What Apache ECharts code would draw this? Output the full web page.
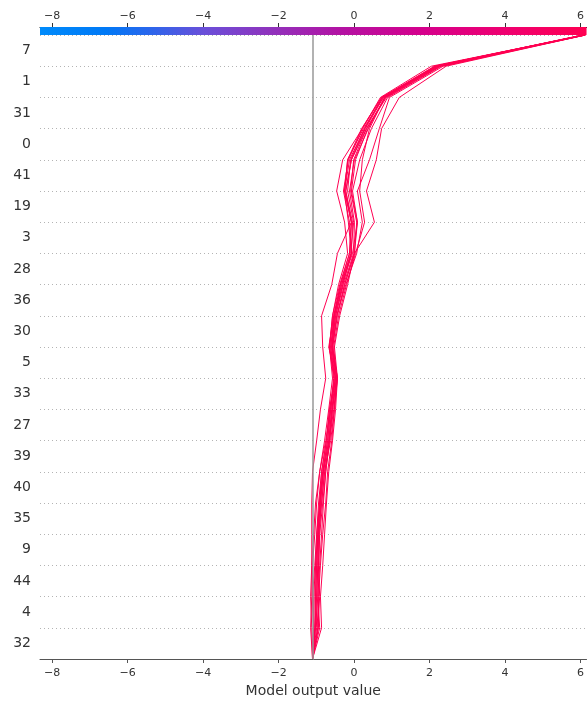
<!DOCTYPE html>
<html>
<head>
<meta charset="utf-8">
<script src="https://cdn.jsdelivr.net/npm/echarts@6/dist/echarts.min.js"></script>
<style>
  html, body { margin: 0; padding: 0; background: #fff; }
  #chart { width: 587px; height: 704px; }
</style>
</head>
<body>
<div id="chart"></div>
<script>
// Feature names, listed from the bottom row to the top row
const featureNames = ['32', '4', '44', '9', '35', '40', '39', '27', '33', '5',
                      '30', '36', '28', '3', '19', '41', '0', '31', '1', '7'];

// Expected model output (where every path starts)
const baseValue = -1.10;

// Axis range and tick labels
const xMin = -8.32;
const xMax = 6.16;
const tickValues = [-8, -6, -4, -2, 0, 2, 4, 6];

// Cumulative model output of each observation at each row boundary (bottom -> top)
const path01 = [-1.10, -1.07, -1.10, -1.12, -1.12, -1.12, -1.10, -0.99, -0.89, -0.75, -0.83, -0.86, -0.59, -0.44, -0.07, -0.25, -0.12, 0.28, 0.75, 2.13, 6.08];
const path02 = [-1.10, -1.15, -1.12, -1.10, -1.04, -0.99, -0.91, -0.78, -0.67, -0.57, -0.65, -0.57, -0.41, -0.17, -0.25, -0.46, -0.30, 0.22, 0.70, 2.05, 6.13];
const path03 = [-1.10, -1.07, -1.10, -1.04, -0.99, -0.94, -0.86, -0.73, -0.65, -0.52, -0.62, -0.52, -0.36, -0.12, -0.07, -0.25, -0.17, 0.20, 0.73, 2.21, 6.10];
const path04 = [-1.10, -0.96, -0.91, -0.94, -0.91, -0.89, -0.81, -0.67, -0.59, -0.46, -0.59, -0.49, -0.30, -0.07, -0.04, -0.22, -0.07, 0.30, 0.78, 2.26, 6.10];
const path05 = [-1.10, -1.12, -1.15, -1.12, -1.07, -1.02, -0.91, -0.75, -0.62, -0.49, -0.67, -0.54, -0.33, -0.04, 0.09, -0.07, 0.04, 0.36, 0.83, 2.15, 6.05];
const path06 = [-1.10, -0.91, -0.96, -0.91, -0.86, -0.81, -0.75, -0.65, -0.54, -0.44, -0.57, -0.44, -0.25, 0.01, 0.09, -0.04, 0.15, 0.46, 0.89, 2.31, 6.13];
const path07 = [-1.10, -1.04, -0.99, -0.96, -0.94, -0.86, -0.78, -0.62, -0.52, -0.46, -0.54, -0.41, -0.20, 0.04, 0.28, 0.15, 0.22, 0.41, 0.81, 2.18, 6.08];
const path08 = [-1.10, -0.86, -0.89, -0.83, -0.78, -0.73, -0.67, -0.57, -0.49, -0.44, -0.52, -0.38, -0.17, 0.01, 0.54, 0.33, 0.59, 0.73, 1.20, 2.44, 6.13];
const path09 = [-1.10, -0.99, -1.02, -0.99, -0.96, -0.91, -0.83, -0.70, -0.62, -0.54, -0.65, -0.57, -0.38, -0.12, -0.07, -0.22, -0.07, 0.33, 0.86, 2.29, 6.10];
const path10 = [-1.10, -0.94, -0.94, -0.89, -0.83, -0.75, -0.70, -0.59, -0.52, -0.44, -0.57, -0.46, -0.22, 0.07, 0.22, 0.09, 0.41, 0.67, 0.94, 2.36, 6.13];
const path11 = [-1.10, -1.07, -1.07, -1.02, -0.96, -0.91, -0.86, -0.73, -0.65, -0.49, -0.59, -0.52, -0.30, -0.07, -0.15, -0.25, -0.17, 0.25, 0.78, 2.23, 6.10];
const path12 = [-1.10, -1.02, -0.96, -0.94, -0.91, -0.83, -0.75, -0.65, -0.57, -0.46, -0.59, -0.49, -0.28, -0.01, 0.01, -0.12, 0.01, 0.38, 0.81, 2.21, 6.08];
const path13 = [-1.10, -1.04, -1.02, -0.99, -0.96, -0.89, -0.81, -0.67, -0.59, -0.49, -0.62, -0.52, -0.33, -0.09, -0.01, -0.17, -0.09, 0.28, 0.75, 2.18, 6.10];
const path14 = [-1.10, -0.96, -0.99, -0.96, -0.94, -0.86, -0.78, -0.65, -0.57, -0.46, -0.57, -0.46, -0.25, 0.01, 0.07, -0.09, -0.01, 0.33, 0.83, 2.26, 6.10];
const path15 = [-1.10, -1.02, -1.04, -1.02, -0.99, -0.91, -0.83, -0.70, -0.62, -0.52, -0.65, -0.54, -0.36, -0.07, -0.12, -0.28, -0.15, 0.22, 0.73, 2.15, 6.08];

const paths = [path01, path02, path03, path04, path05, path06, path07, path08,
               path09, path10, path11, path12, path13, path14, path15];

const chart = echarts.init(document.getElementById('chart'), null, { renderer: 'canvas' });

const FONT = 'DejaVu Sans';
const TEXT = '#333333';
const LINE_RED = '#ff0052';

// blue -> purple -> red colour scale shown above the plot
const colorScale = new echarts.graphic.LinearGradient(0, 0, 1, 0, [
  { offset: 0.00, color: '#008bfb' },
  { offset: 0.12, color: '#0079f6' },
  { offset: 0.20, color: '#2a66ec' },
  { offset: 0.30, color: '#6a4fd9' },
  { offset: 0.42, color: '#8f33bd' },
  { offset: 0.55, color: '#b312a3' },
  { offset: 0.70, color: '#d5008c' },
  { offset: 0.85, color: '#ef0070' },
  { offset: 1.00, color: '#ff0052' }
]);

const pathSeries = paths.map(function (p) {
  return {
    type: 'line',
    xAxisIndex: 0,
    yAxisIndex: 1,
    data: p.map(function (v, k) { return [v, k]; }),
    symbol: 'none',
    silent: true,
    z: 3,
    lineStyle: { color: LINE_RED, width: 1 }
  };
});

function minusSign(v) { return String(v).replace('-', '\u2212'); }

chart.setOption({
  animation: false,
  backgroundColor: '#ffffff',
  grid: [
    { left: 40, right: 0, top: 35, bottom: 45 },
    { left: 40, right: 0, top: 27, height: 8 }
  ],
  xAxis: [
    {
      type: 'value', gridIndex: 0, min: xMin, max: xMax,
      name: 'Model output value', nameLocation: 'middle', nameGap: 24,
      nameTextStyle: { fontFamily: FONT, fontSize: 14, color: TEXT },
      splitLine: { show: false },
      axisLine: { show: true, lineStyle: { color: '#555555', width: 1 } },
      axisTick: { show: true, length: 4, customValues: tickValues, lineStyle: { color: '#555555' } },
      axisLabel: {
        customValues: tickValues, fontFamily: FONT, fontSize: 11, color: TEXT, margin: 9,
        formatter: minusSign
      }
    },
    {
      type: 'value', gridIndex: 1, min: xMin, max: xMax, position: 'top',
      splitLine: { show: false },
      axisLine: { show: true, onZero: false, lineStyle: { color: '#111111', width: 1 } },
      axisTick: { show: true, length: 4, customValues: tickValues, lineStyle: { color: '#333333' } },
      axisLabel: {
        customValues: tickValues, fontFamily: FONT, fontSize: 11, color: TEXT, margin: 5,
        formatter: minusSign
      }
    }
  ],
  yAxis: [
    {
      type: 'category', gridIndex: 0, data: featureNames, boundaryGap: true,
      axisLine: { show: false }, axisTick: { show: false }, splitLine: { show: false },
      axisLabel: { fontFamily: FONT, fontSize: 14, color: TEXT, margin: 9 }
    },
    {
      type: 'value', gridIndex: 0, min: 0, max: 20, interval: 1, position: 'left',
      axisLine: { show: false }, axisTick: { show: false }, axisLabel: { show: false },
      splitLine: { show: true, lineStyle: { color: '#b4b4b4', width: 1, type: [1, 3] } }
    },
    {
      type: 'value', gridIndex: 1, min: 0, max: 1, show: false
    }
  ],
  series: [
    // colour scale bar
    {
      type: 'line', xAxisIndex: 1, yAxisIndex: 2, data: [], silent: true,
      markArea: {
        silent: true,
        itemStyle: { color: colorScale, borderWidth: 0 },
        data: [[{ xAxis: xMin, yAxis: 0 }, { xAxis: xMax, yAxis: 1 }]]
      }
    },
    // expected value reference line
    {
      type: 'line', xAxisIndex: 0, yAxisIndex: 1, data: [], silent: true, z: 1,
      markLine: {
        silent: true, symbol: 'none', label: { show: false },
        lineStyle: { color: '#999999', width: 1.5, type: 'solid' },
        data: [{ xAxis: baseValue }]
      }
    }
  ].concat(pathSeries)
});
</script>
</body>
</html>
